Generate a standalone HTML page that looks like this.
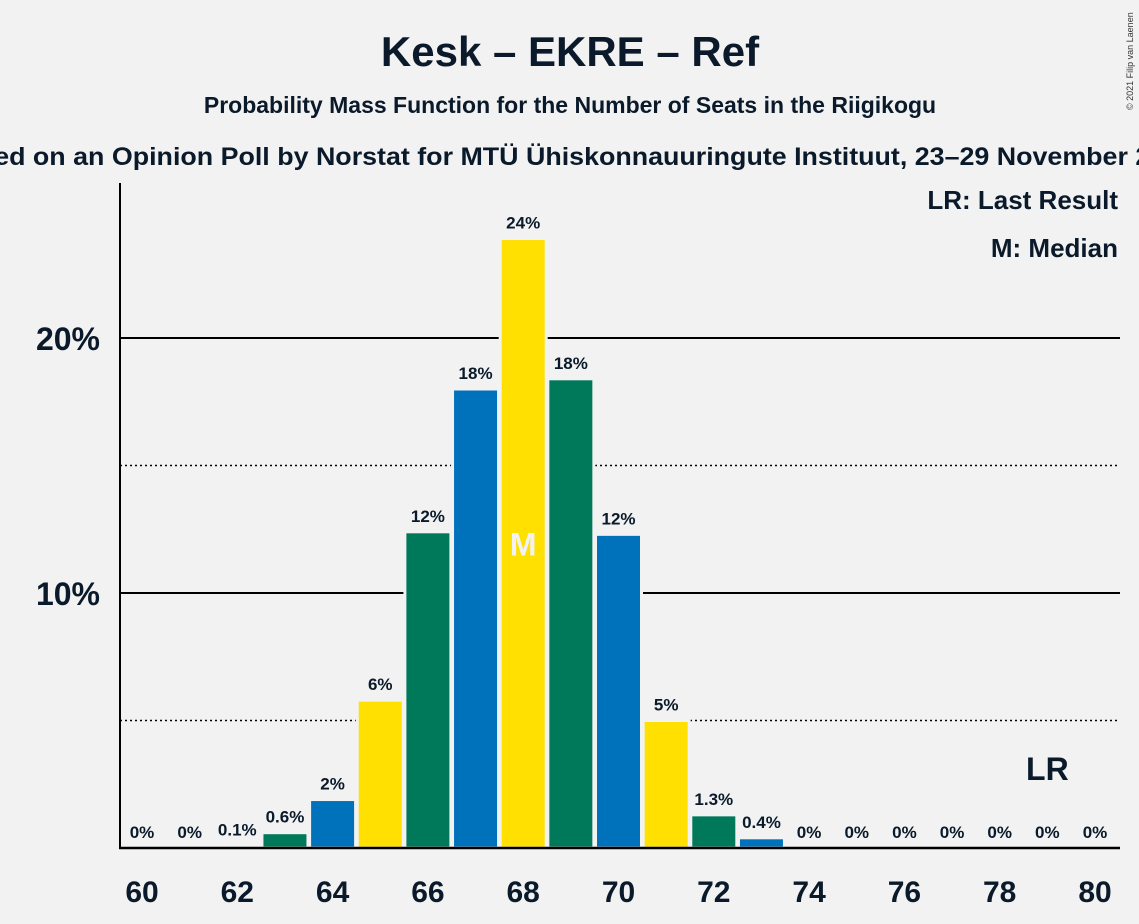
<!DOCTYPE html>
<html><head><meta charset="utf-8">
<style>
body{margin:0;background:#f2f2f2;font-family:"Liberation Sans",sans-serif;}
svg{display:block}
</style></head>
<body>
<svg id="chart" width="1139" height="924" xmlns="http://www.w3.org/2000/svg">
<rect width="1139" height="924" fill="#f2f2f2"/>
<text x="570" y="66" text-anchor="middle" font-size="42" font-weight="bold" fill="#0a1a2a">Kesk – EKRE – Ref</text>
<text x="570" y="113" text-anchor="middle" font-size="23" font-weight="bold" fill="#0a1a2a">Probability Mass Function for the Number of Seats in the Riigikogu</text>
<text x="-55" y="165" textLength="1250" lengthAdjust="spacingAndGlyphs" font-size="25" font-weight="bold" fill="#0a1a2a">Based on an Opinion Poll by Norstat for MTÜ Ühiskonnauuringute Instituut, 23–29 November 2021</text>
<text x="1133" y="110" font-size="9" fill="#333" transform="rotate(-90 1133 110)">© 2021 Filip van Laenen</text>
<text x="1118" y="209" text-anchor="end" font-size="26" font-weight="bold" fill="#0a1a2a">LR: Last Result</text>
<text x="1118" y="257" text-anchor="end" font-size="26" font-weight="bold" fill="#0a1a2a">M: Median</text>
<g id="grid"></g>
<g id="bars"></g>
<g id="axes"></g>
</svg>
<script>
const seats=[60,61,62,63,64,65,66,67,68,69,70,71,72,73,74,75,76,77,78,79,80];
const probs=[0,0,0.1,0.6,1.9,5.8,12.4,18.0,23.9,18.4,12.3,5.0,1.3,0.4,0,0,0,0,0,0,0];
const labels=["0%","0%","0.1%","0.6%","2%","6%","12%","18%","24%","18%","12%","5%","1.3%","0.4%","0%","0%","0%","0%","0%","0%","0%"];
const yTicks=[10,20];
const yMinor=[5,15];
const median=68, lastResult=79;
const colors=["#FFE000","#00785A","#0072BB"];
const NS="http://www.w3.org/2000/svg";
const X=s=>142+(s-60)*47.65;
const Y=v=>848-v*25.5;
function mk(t,a,p){const e=document.createElementNS(NS,t);for(const k in a)e.setAttribute(k,a[k]);p.appendChild(e);return e;}
const grid=document.getElementById('grid'),bars=document.getElementById('bars'),axes=document.getElementById('axes');
yMinor.forEach(v=>{const l=mk('line',{x1:120,x2:1120,y1:Y(v),y2:Y(v),stroke:'#000','stroke-width':1.5,'stroke-dasharray':'2,3'},grid);

});
yTicks.forEach(v=>{const l=mk('line',{x1:120,x2:1120,y1:Y(v),y2:Y(v),stroke:'#000','stroke-width':2},grid);


const t=mk('text',{x:100,y:Y(v)+12,'text-anchor':'end','font-size':32,'font-weight':'bold',fill:'#0a1a2a'},axes);t.textContent=v+'%';

});
seats.forEach((s,i)=>{const v=probs[i];
if(v>0){const c=colors[((s-62)%3+3)%3];
const r=mk('rect',{x:X(s)-23,y:Y(v),width:46,height:Y(0)-Y(v),fill:c,stroke:'#f2f2f2','stroke-width':3},bars);

}
const t=mk('text',{x:X(s),y:Y(v)-10,'text-anchor':'middle','font-size':17,'font-weight':'bold',fill:'#0a1a2a'},bars);t.textContent=labels[i];


if(s%2===0){const x=mk('text',{x:X(s),y:902,'text-anchor':'middle','font-size':30,'font-weight':'bold',fill:'#0a1a2a'},axes);x.textContent=s;

}
});
const mi=seats.indexOf(median);
const m=mk('text',{x:X(median),y:Y(probs[mi]/2)+12,'text-anchor':'middle','font-size':32,'font-weight':'bold',fill:'#f2f2f2'},bars);m.textContent='M';


const lr=mk('text',{x:X(lastResult),y:780,'text-anchor':'middle','font-size':32,'font-weight':'bold',fill:'#0a1a2a'},bars);lr.textContent='LR';


const ya=mk('line',{x1:120,x2:120,y1:183,y2:849,stroke:'#000','stroke-width':2},axes);


const xa=mk('line',{x1:119,x2:1120,y1:848,y2:848,stroke:'#000','stroke-width':2.5},axes);


</script>
</body></html>
